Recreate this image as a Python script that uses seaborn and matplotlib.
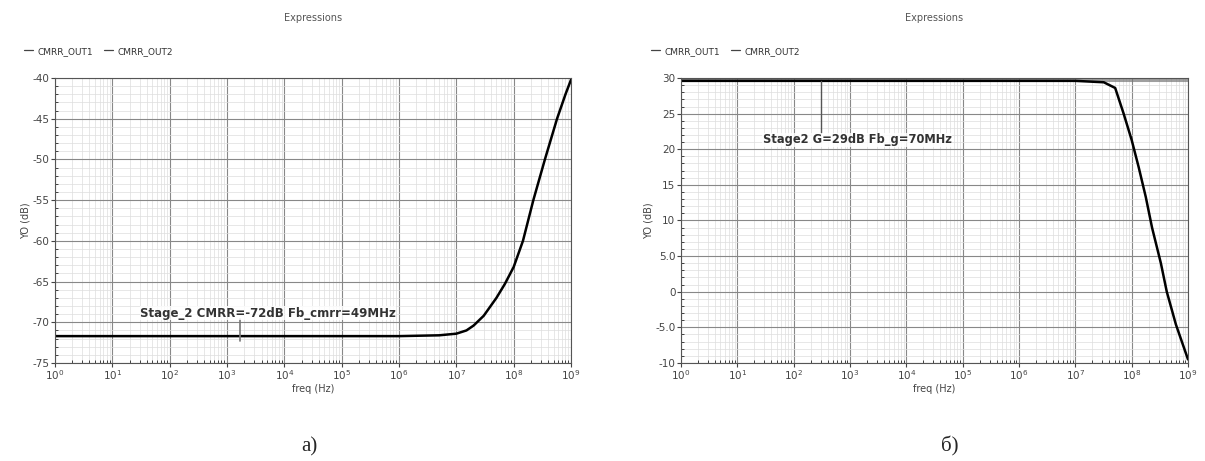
import pandas as pd
import matplotlib
matplotlib.use('Agg')
import matplotlib.pyplot as plt
import seaborn as sb
from matplotlib.lines import Line2D
from matplotlib.ticker import FixedLocator, LogFormatterSciNotation, MultipleLocator, NullFormatter

# panel a) - CMRR vs frequency
freq_a = [1e0, 1e1, 1e2, 1e3, 1e4, 1e5, 1e6, 5e6, 1e7, 1.5e7, 2e7, 3e7, 5e7,
          7e7, 1e8, 1.45e8, 2.2e8, 3.5e8, 5.7e8, 8e8, 1e9]
cmrr_a = [-71.7, -71.7, -71.7, -71.7, -71.7, -71.7, -71.7, -71.6, -71.4, -71.0,
          -70.4, -69.2, -67.0, -65.3, -63.2, -60.0, -55.0, -50.0, -45.0, -42.0, -40.2]

# panel б) - gain vs frequency
freq_b = [1e0, 1e1, 1e2, 1e3, 1e4, 1e5, 1e6, 1e7, 3.2e7, 5.1e7, 7.2e7, 1e8,
          1.33e8, 1.78e8, 2.3e8, 3.3e8, 4.2e8, 6.1e8, 1e9]
gain_b = [29.6, 29.6, 29.6, 29.6, 29.6, 29.6, 29.6, 29.6, 29.4, 28.6, 25.0, 21.3,
          17.5, 13.3, 9.0, 4.0, 0.0, -4.6, -9.5]

series_names = ['CMRR_OUT1', 'CMRR_OUT2']
xticks = [1e0, 1e1, 1e2, 1e3, 1e4, 1e5, 1e6, 1e7, 1e8, 1e9]
ylims_a = (-75, -40)
ylims_b = (-10, 30)
yticks_a = [-40, -45, -50, -55, -60, -65, -70, -75]
yticks_b = [30, 25, 20, 15, 10, 5, 0, -5, -10]
ytick_labels_b = ['30', '25', '20', '15', '10', '5.0', '0', '-5.0', '-10']

sb.set_style('white')
plt.rcParams['font.family'] = ['DejaVu Sans']

fig = plt.figure(figsize=(12.05, 4.61), dpi=100)
ax_a = fig.add_axes([0.0456, 0.2126, 0.4283, 0.6182])
ax_b = fig.add_axes([0.5651, 0.2126, 0.4208, 0.6182])

df_a = pd.DataFrame({'freq': freq_a, 'val': cmrr_a})
df_b = pd.DataFrame({'freq': freq_b, 'val': gain_b})


def style_axes(ax, ylims, yticks, ylabels, leg_x):
    ax.set_xscale('log')
    ax.set_xlim(1e0, 1e9)
    ax.set_ylim(*ylims)
    ax.xaxis.set_major_locator(FixedLocator(xticks))
    ax.xaxis.set_major_formatter(LogFormatterSciNotation())
    minors = [m * t for t in xticks[:-1] for m in range(2, 10)]
    ax.xaxis.set_minor_locator(FixedLocator(minors))
    ax.xaxis.set_minor_formatter(NullFormatter())
    ax.set_yticks(yticks)
    ax.set_yticklabels(ylabels)
    ax.yaxis.set_minor_locator(MultipleLocator(1))
    ax.grid(True, which='major', color='#888888', linewidth=0.8)
    ax.grid(True, which='minor', color='#dddddd', linewidth=0.5)
    ax.tick_params(which='major', direction='out', length=3, width=0.8,
                   labelsize=7.5, colors='#444444', pad=1,
                   left=True, bottom=True)
    ax.tick_params(which='minor', direction='in', length=2, width=0.6,
                   left=True, bottom=True, top=False, right=False)
    for s in ax.spines.values():
        s.set_color('#555555')
        s.set_linewidth(0.8)
    ax.set_xlabel('freq (Hz)', fontsize=7, color='#444444', labelpad=1)
    ax.set_ylabel('YO (dB)', fontsize=7, color='#444444', labelpad=1)
    ax.set_title('Expressions', fontsize=7, color='#555555', pad=41)
    handles = [Line2D([], [], color='#444444', lw=0.9) for _ in series_names]
    ax.legend(handles, series_names, loc='lower left', bbox_to_anchor=(leg_x, 1.05),
              ncol=2, frameon=False, fontsize=6.5, handlelength=1.0,
              handletextpad=0.5, columnspacing=1.2, labelcolor='#333333')


sb.lineplot(data=df_a, x='freq', y='val', ax=ax_a, color='black', linewidth=1.8)
style_axes(ax_a, ylims_a, yticks_a, [str(t) for t in yticks_a], -0.075)
ax_a.plot([1.7e3, 1.7e3], [-69.6, -72.3], color='#777777', lw=1.2)
ax_a.text(5.2e3, -68.9, 'Stage_2 CMRR=-72dB Fb_cmrr=49MHz', fontsize=8.5,
          fontweight='bold', color='#333333', ha='center', va='center',
          bbox=dict(facecolor='white', edgecolor='none', pad=0.3, alpha=0.8))

sb.lineplot(data=df_b, x='freq', y='val', ax=ax_b, color='black', linewidth=1.8)
style_axes(ax_b, ylims_b, yticks_b, ytick_labels_b, -0.075)
ax_b.axhline(29.7, color='#777777', lw=2.2, alpha=0.7, zorder=1.5)
ax_b.plot([300, 300], [29.6, 22.3], color='#555555', lw=1.0)
ax_b.text(1.35e3, 21.3, 'Stage2 G=29dB Fb_g=70MHz', fontsize=8.3,
          fontweight='bold', color='#333333', ha='center', va='center',
          bbox=dict(facecolor='white', edgecolor='none', pad=0.3, alpha=0.8))

fig.text(0.257, 0.02, 'а)', fontsize=15, family='Liberation Serif', ha='center')
fig.text(0.788, 0.02, 'б)', fontsize=15, family='Liberation Serif', ha='center')

fig.savefig('out.png', dpi=100)
plt.close(fig)
